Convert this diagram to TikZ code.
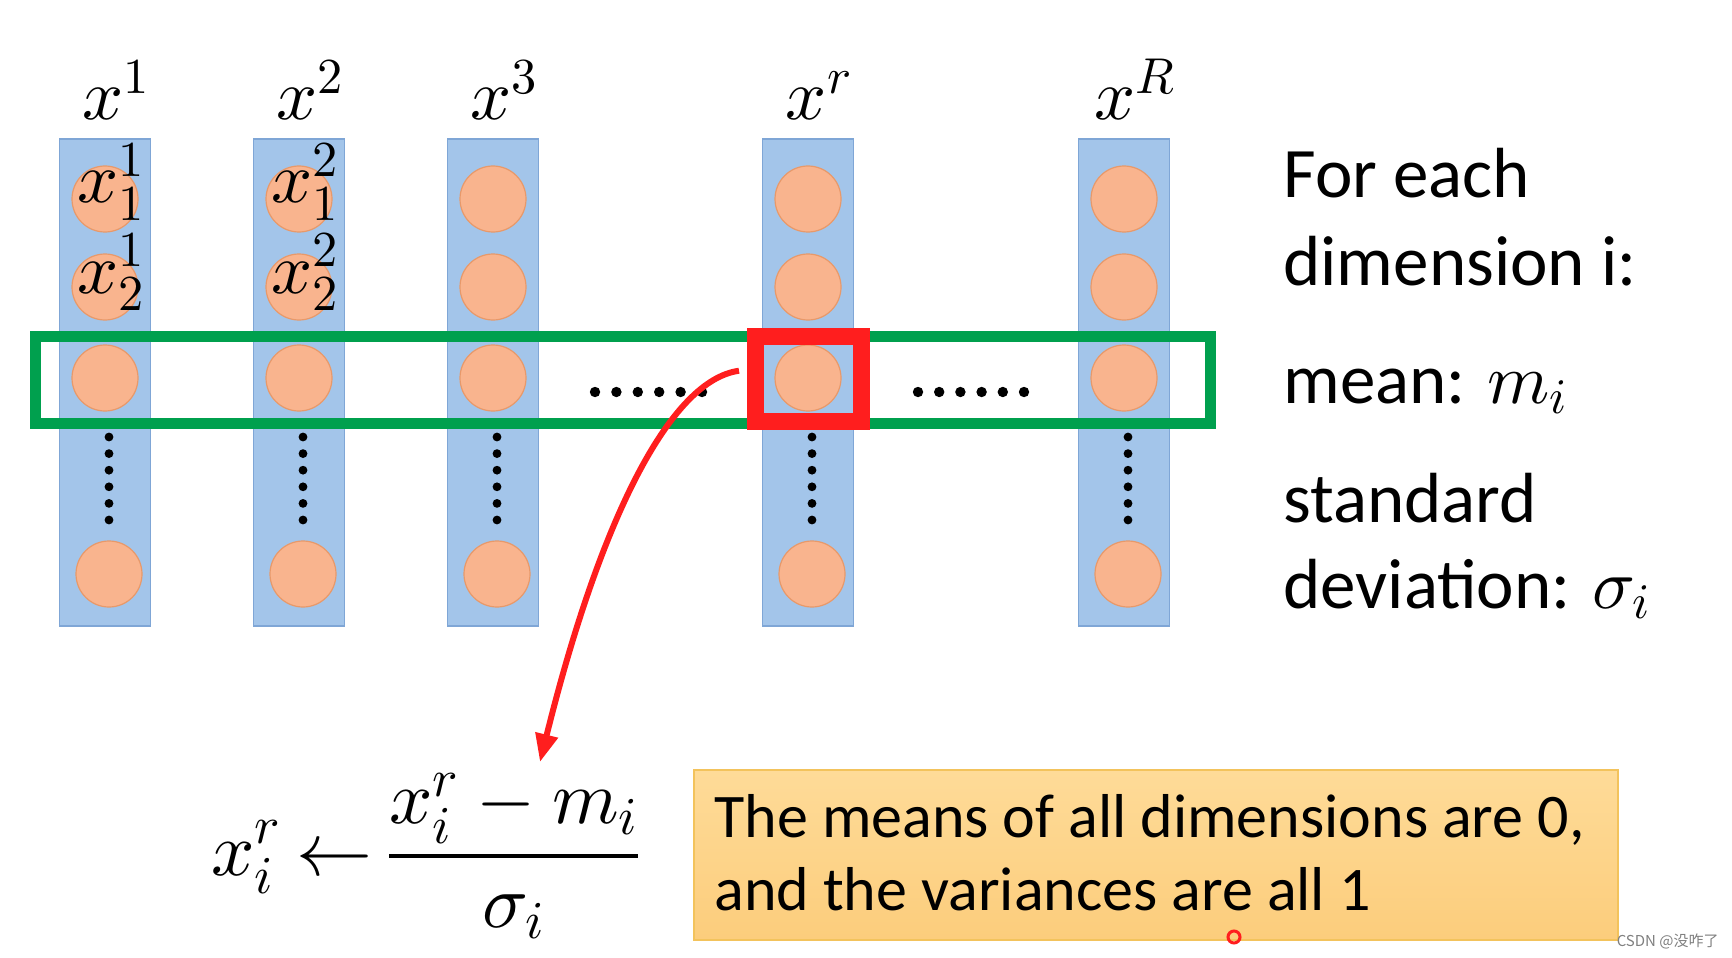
\documentclass[tikz,border=0pt]{standalone}
\usepackage{fontspec}
\setmainfont{Carlito}
\newfontfamily\cjkfont{Noto Sans CJK SC}
\DeclareFontShape{OML}{cmm}{m}{it}{<-> cmmi10}{}
\DeclareFontShape{OMS}{cmsy}{m}{n}{<-> cmsy10}{}
\DeclareFontShape{OMX}{cmex}{m}{n}{<-> cmex10}{}
\DeclareFontShape{OT1}{cmr}{m}{n}{<-> cmr10}{}
\usetikzlibrary{arrows.meta,positioning,calc}
\definecolor{colblue}{HTML}{A3C5EA}
\definecolor{coledge}{HTML}{7FA6D6}
\definecolor{unitfill}{HTML}{F9B48E}
\definecolor{unitedge}{HTML}{E8996A}
\definecolor{meangreen}{HTML}{00A04E}
\definecolor{pickred}{HTML}{FF1E1E}
\definecolor{notetop}{HTML}{FEDB98}
\definecolor{notebot}{HTML}{FCCD7C}
\definecolor{noteedge}{HTML}{F3C35C}

\begin{document}
\begin{tikzpicture}[x=0.5pt,y=-0.5pt,
  featcol/.style={rectangle,draw=coledge,fill=colblue,line width=0.6pt,
    minimum width=45.5pt,minimum height=243.5pt,inner sep=0pt},
  unit/.style={circle,draw=unitedge,fill=unitfill,line width=0.6pt,
    minimum size=33pt,inner sep=0pt},
  dimlabel/.style={anchor=base,inner sep=0pt,font=\fontsize{36}{40}\selectfont},
  cellabel/.style={anchor=base west,inner sep=0pt,font=\fontsize{36}{40}\selectfont},
  meanbox/.style={rectangle,draw=meangreen,line width=5.5pt,
    minimum width=587.5pt,minimum height=43.5pt,inner sep=0pt},
  pickbox/.style={rectangle,draw=pickred,line width=8.5pt,
    minimum width=53pt,minimum height=42.25pt,inner sep=0pt},
  normarrow/.style={-{Triangle[length=14pt,width=11pt]},draw=pickred,line width=3pt},
  sidetext/.style={anchor=base west,inner sep=0pt,font=\fontsize{35.5}{43}\selectfont},
  notebox/.style={rectangle,draw=noteedge,top color=notetop,bottom color=notebot,
    line width=1pt,minimum width=462pt,minimum height=85pt,inner sep=0pt},
  notetext/.style={anchor=base west,inner sep=0pt,font=\fontsize{31}{36}\selectfont},
]
  \fill[white] (0,0) rectangle (1732,957);
  \useasboundingbox (0,0) rectangle (1732,957);

  % feature columns
  \foreach \c/\cx/\s in {1/105/1,2/299/2,3/493/3,r/808/r,R/1124/R} {
    \node[featcol] (col\c) at (\cx,382.5) {};
    \node[dimlabel] (lbl\c) at (\cx+11,120) {$x^{\s}$};
    \node[unit] (u\c-1) at (\cx,199) {};
    \node[unit] (u\c-2) at (\cx,287) {};
    \node[unit] (u\c-3) at (\cx,378) {};
    \node[unit] (u\c-n) at (\cx+4,574) {};
    \foreach \k in {0,...,5}
      \fill (\cx+4,437+16.6*\k) circle (2.2pt);
  }
  \foreach \c/\cx in {1/105,2/299} {
    \node[cellabel] (e\c-1) at (\cx-28,203) {$x_1^{\c}$};
    \node[cellabel] (e\c-2) at (\cx-28,293) {$x_2^{\c}$};
  }

  % dimension i across all columns
  \node[meanbox] (meanrow) at (622.5,379.5) {};
  \node[pickbox] (pick) at (808.5,378.75) {};
  \foreach \k in {0,...,5} {
    \fill (595+21.4*\k,392) circle (2.6pt);
    \fill (918+21.2*\k,392) circle (2.6pt);
  }

  % side notes
  \node[sidetext] (for) at (1283,198) {For each};
  \node[sidetext] (dim) at (1283,285) {dimension i:};
  \node[sidetext] (mean) at (1283,403) {mean: $m_i$};
  \node[sidetext] (std) at (1283,522) {standard};
  \node[sidetext] (dev) at (1283,608) {deviation: $\sigma_i$};

  % normalisation
  \node[anchor=base west,inner sep=0pt,font=\fontsize{38}{44}\selectfont] (formula) at (211,875)
    {$\displaystyle x_i^r \mathrel{\mkern-1.5mu\leftarrow\mkern-1.5mu} \frac{x_i^r-m_i}{\sigma_i}$};
  \coordinate (tipend) at (540,762);
  \draw[normarrow] ([xshift=-4pt,yshift=4pt]pick.west) .. controls (670,380) and (600,520) .. (tipend);

  \node[notebox] (note) at (1156,855) {};
  \node[notetext] (note1) at (714,837) {The means of all dimensions are 0,};
  \node[notetext] (note2) at (714,910) {and the variances are all 1};

  \draw[pickred,line width=1.5pt] (1234,937) circle (3pt);
  \node[anchor=east,inner sep=0pt,text=gray,font=\cjkfont\fontsize{7.5}{8}\selectfont] (mark) at (1719,941) {CSDN @没咋了};
\end{tikzpicture}
\end{document}
